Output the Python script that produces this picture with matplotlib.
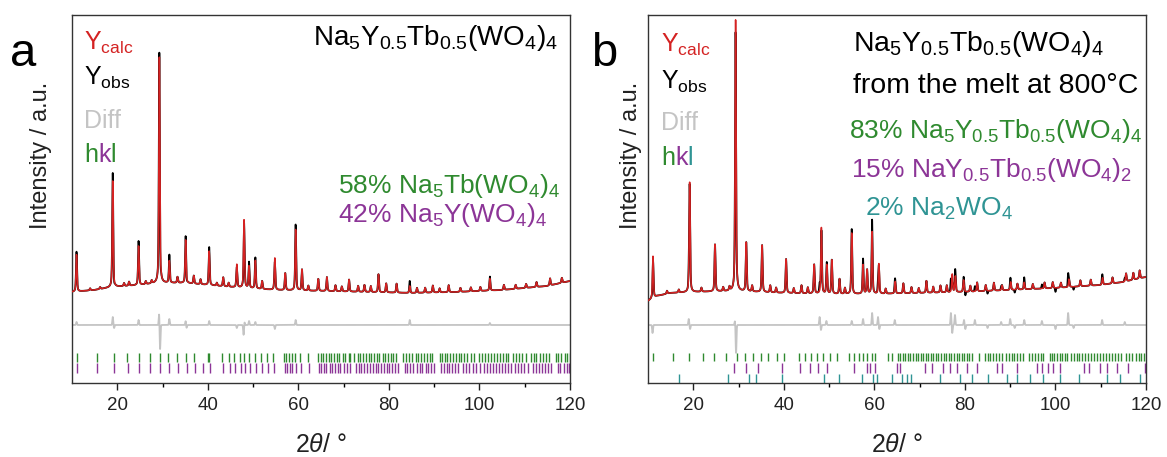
import numpy as np
import matplotlib
matplotlib.use("Agg")
import matplotlib.pyplot as plt

plt.rcParams["font.family"] = ["Liberation Sans", "DejaVu Sans"]
plt.rcParams["mathtext.fontset"] = "custom"
plt.rcParams["mathtext.rm"] = "Liberation Sans"
plt.rcParams["mathtext.it"] = "Liberation Sans:italic"
plt.rcParams["mathtext.bf"] = "Liberation Sans:bold"

RED = "#d42222"
GREEN = "#2f8a2f"
PURPLE = "#8c3597"
TEAL = "#2f9494"
GRAY = "#c4c4c4"

# ---------------- panel a: Na5Y0.5Tb0.5(WO4)4 ----------------
# peak position (2theta) and height above background (px-like units)
peaks_a_pos = [11.0, 19.0, 24.7, 29.3, 31.5, 33.3, 35.1, 36.9, 38.4, 40.3,
               43.4, 46.4, 48.0, 49.1, 50.5, 52.0, 54.8, 57.1, 59.4, 60.8,
               64.4, 66.3, 71.2, 77.7, 79.4, 81.7, 84.6, 89.7, 93.2, 98.1,
               102.3, 112.6, 115.6,
               14.0, 16.2, 21.5, 22.6, 26.3, 27.6, 42.0, 44.6, 62.2, 68.2,
               69.6, 73.2, 74.6, 76.0, 86.2, 88.0, 91.2, 95.8, 100.2, 105.4,
               108.0, 110.3, 118.2]
peaks_a_hgt = [37, 106, 39, 226, 22, 6, 43, 8, 5, 34,
               9, 23, 68, 22, 28, 8, 32, 17, 61, 21,
               12, 14, 12, 18, 9, 9, 7, 7, 7, 4,
               12, 5, 7,
               2, 2, 3, 4, 3, 3, 3, 4, 5, 6,
               5, 6, 7, 6, 5, 5, 4, 4, 4, 5,
               4, 4, 5]
bg_a_x = [10, 15, 19, 25, 29, 35, 45, 55, 65, 75, 85, 95, 105, 115, 120]
bg_a_y = [91, 93, 96, 98, 100, 100, 96, 93, 92, 91, 90, 91, 93, 97, 102]
diff_a_pos = [11.0, 19.0, 19.3, 24.7, 29.25, 29.45, 31.5, 35.1, 35.3, 40.3,
              46.4, 47.9, 48.1, 49.1, 50.5, 54.8, 59.4, 84.6, 102.3]
diff_a_amp = [3, 8, -3, 5, 12, -25, 6, 4, -3, 4,
              -3, -10, 3, 4, 3, -4, 5, 5, 2]
hkl_a_green = [11.2, 15.6, 19.3, 22.2, 24.8, 27.2, 29.4, 31.3, 33.3, 35.2,
               37.0, 40.0, 40.3, 43.2, 44.7, 45.8, 47.1, 48.0, 49.1, 50.4,
               51.7, 53.1, 54.4, 56.8, 57.3, 57.9, 58.5, 59.2, 60.4, 62.1,
               64.3, 64.9, 65.4, 66.0, 66.7, 67.2, 67.8, 68.5, 69.0, 69.8,
               70.4, 71.1, 71.5, 72.3, 73.1, 73.6, 74.2, 74.9, 75.5, 76.1,
               76.8, 77.3, 77.9, 78.6, 79.2, 79.7, 80.4, 81.0, 81.6, 83.2,
               83.8, 84.4, 85.0, 85.9, 86.5, 87.1, 87.8, 88.4, 89.0, 89.5,
               91.2, 91.8, 92.4, 92.9, 93.5, 94.1, 94.8, 95.4, 96.0, 96.6,
               97.2, 98.2, 98.9, 99.8, 100.5, 101.3, 101.9, 102.5, 103.2, 103.9,
               104.5, 105.1, 105.8, 106.4, 107.3, 108.1, 108.7, 109.4, 110.2, 111.4,
               112.0, 112.6, 113.4, 114.0, 114.7, 115.3, 116.8, 117.4, 118.1, 118.8,
               119.4, 119.9]
hkl_a_purple = [11.2, 15.6, 19.3, 22.3, 24.9, 27.3, 29.5, 31.4, 33.4, 35.3,
                37.1, 38.9, 40.4, 43.3, 44.8, 46.0, 47.3, 48.2, 49.3, 50.6,
                51.9, 53.3, 54.6, 57.0, 57.5, 58.1, 58.7, 59.4, 60.6, 62.3,
                64.5, 65.1, 65.6, 66.2, 66.9, 67.4, 68.0, 68.7, 69.3, 70.1,
                70.7, 71.4, 72.7, 73.4, 73.9, 74.5, 75.2, 75.8, 76.4, 77.1,
                77.6, 78.2, 78.9, 79.5, 80.0, 80.7, 81.3, 81.9, 83.5, 84.1,
                84.7, 85.3, 86.2, 86.8, 87.4, 88.1, 88.7, 89.3, 89.9, 91.6,
                92.2, 92.8, 93.3, 93.9, 94.5, 95.2, 96.4, 97.0, 97.6, 98.6,
                99.3, 100.2, 100.9, 101.7, 102.3, 103.0, 103.7, 104.4, 105.0, 105.6,
                106.3, 106.9, 107.8, 108.6, 109.2, 109.9, 110.7, 111.9, 112.5, 113.1,
                113.9, 114.5, 115.2, 115.8, 117.3, 117.9, 118.6, 119.3, 119.8]

# ---------------- panel b: from the melt at 800 C ----------------
peaks_b_pos = [11.1, 19.2, 24.8, 29.35, 31.7, 35.2, 37.0, 40.5, 43.9, 46.7,
               48.3, 49.5, 50.6, 52.3, 55.0, 57.5, 58.4, 59.5, 61.0, 64.6,
               66.4, 71.5, 74.6, 77.2, 77.9, 79.7, 82.7, 86.4, 90.1, 93.1,
               97.6, 103.0, 110.4, 115.6, 118.6,
               14.2, 16.8, 21.8, 26.6, 28.0, 33.0, 38.3, 42.2, 45.3, 53.5,
               62.5, 68.2, 69.8, 73.0, 76.0, 81.2, 84.6, 88.2, 91.6, 95.0,
               99.4, 101.2, 105.5, 107.8, 112.6, 117.2]
peaks_b_hgt = [42, 110, 47, 272, 49, 47, 7, 34, 8, 29,
               66, 29, 34, 15, 61, 29, 24, 62, 30, 12,
               10, 12, 7, 18, 16, 12, 9, 8, 8, 7,
               6, 8, 7, 8, 8,
               3, 3, 4, 4, 4, 6, 5, 5, 6, 6,
               5, 6, 5, 6, 7, 6, 6, 5, 6, 5,
               6, 5, 6, 6, 6, 7]
bg_b_x = [10, 12, 15, 20, 29, 40, 50, 60, 70, 80, 90, 100, 110, 115, 120]
bg_b_y = [82, 87, 90, 91, 92, 90, 89, 89, 90, 91, 93, 95, 98, 101, 106]
diff_b_pos = [11.0, 19.0, 19.3, 29.2, 29.45, 47.9, 48.2, 49.4, 55.0, 57.5,
              59.5, 60.8, 61.1, 64.5, 76.9, 77.2, 77.8, 79.8, 80.1, 82.2,
              85.0, 88.0, 90.0, 91.0, 93.1, 97.0, 100.0, 102.8, 104.0, 110.3,
              115.3]
diff_b_amp = [-8, 6, -4, 4, -28, 8, -5, 4, 4, 6,
              12, 8, -4, 5, 12, -8, 10, 5, -4, 5,
              -3, 3, 6, -3, 5, 4, -4, 12, -3, 5,
              3]
hkl_b_green = [11.0, 15.6, 19.1, 22.1, 24.6, 27.2, 29.6, 31.4, 33.3, 34.9,
               36.6, 38.4, 40.0, 43.4, 44.7, 45.9, 47.3, 48.6, 50.1, 51.7,
               54.5, 55.4, 56.5, 57.4, 58.3, 59.4, 60.1, 63.1, 63.8, 65.2,
               65.7, 66.3, 66.8, 67.4, 67.9, 68.5, 69.1, 69.6, 70.2, 70.8,
               71.3, 71.9, 72.4, 73.0, 73.6, 74.1, 74.8, 75.3, 75.9, 76.5,
               77.0, 77.6, 78.2, 78.7, 79.3, 79.9, 80.4, 81.0, 81.6, 83.1,
               84.4, 85.0, 85.6, 86.2, 86.9, 87.5, 88.1, 89.1, 89.7, 90.3,
               90.9, 91.6, 92.2, 92.8, 94.2, 94.8, 95.5, 96.1, 96.7, 97.3,
               98.7, 99.2, 99.7, 100.3, 100.9, 101.5, 102.0, 102.6, 103.4, 104.1,
               104.7, 105.3, 105.9, 106.6, 107.2, 107.8, 108.5, 109.2, 109.8, 110.5,
               111.2, 111.8, 112.4, 113.1, 113.8, 114.4, 115.6, 116.2, 117.0, 117.7,
               118.4, 119.0, 119.6]
hkl_b_purple = [29.1, 31.6, 34.2, 39.5, 43.6, 45.8, 47.6, 49.5, 55.4, 58.3,
                59.0, 60.1, 64.9, 65.7, 71.2, 72.7, 75.2, 76.7, 78.2, 80.4,
                82.6, 87.0, 88.1, 91.4, 95.9, 97.0, 98.4, 99.5, 100.9, 106.4,
                107.5, 109.8, 111.3, 113.5, 116.1, 119.8]
hkl_b_teal = [16.9, 27.6, 32.4, 33.9, 39.5, 48.9, 52.2, 57.2, 59.8, 60.5,
              63.8, 66.0, 67.1, 68.2, 74.5, 78.9, 81.5, 85.2, 89.2, 91.4,
              94.4, 97.3, 101.0, 105.1, 111.3, 114.3, 118.7]

W, H = 1167, 457
fig = plt.figure(figsize=(W / 100, H / 100), dpi=100)


def fx(x):
    return x / W


def fy(y):
    return 1 - y / H


tth = np.linspace(10, 120, 6001)


def peak_sum(pos, hgt, fwhm):
    out = np.zeros_like(tth)
    for p, h in zip(pos, hgt):
        g = np.exp(-4 * np.log(2) * ((tth - p) / fwhm) ** 2)
        l = 1 / (1 + 4 * ((tth - p) / fwhm) ** 2)
        out += h * (0.5 * g + 0.5 * l)
    return out


def wiggles(pos, amp):
    out = np.zeros_like(tth)
    for p, a in zip(pos, amp):
        out += a * np.exp(-0.5 * ((tth - p) / 0.09) ** 2)
    return out


def panel(left, peaks_pos, peaks_hgt, bg_x, bg_y, diff_pos, diff_amp, hkl_rows):
    ax = fig.add_axes([fx(left), fy(383), fx(498), (383 - 15) / H])
    calc = np.interp(tth, bg_x, bg_y) + peak_sum(peaks_pos, peaks_hgt, 0.26)
    diff = wiggles(diff_pos, diff_amp)
    obs = calc + diff
    ax.plot(tth, obs, color="black", lw=1.3, zorder=2)
    ax.plot(tth, calc, color=RED, lw=1.1, zorder=3)
    ax.plot(tth, 58 + diff, color=GRAY, lw=1.3, zorder=2)
    for positions, color, y0, y1 in hkl_rows:
        ax.vlines(positions, y0, y1, color=color, lw=1.0)
    ax.set_xlim(10, 120)
    ax.set_ylim(0, 368)
    ax.set_yticks([])
    ax.set_xticks([20, 40, 60, 80, 100, 120])
    ax.set_xticks([30, 50, 70, 90, 110], minor=True)
    ax.tick_params(axis="x", which="major", direction="out", length=5, width=1.0,
                   labelsize=13.5, pad=5, colors="#222222")
    ax.tick_params(axis="x", which="minor", direction="out", length=3, width=1.0)
    for s in ax.spines.values():
        s.set_linewidth(1.0)
        s.set_color("#333333")
    return ax


panel(72, peaks_a_pos, peaks_a_hgt, bg_a_x, bg_a_y, diff_a_pos, diff_a_amp,
      [(hkl_a_green, GREEN, 21.5, 30.5), (hkl_a_purple, PURPLE, 10.5, 20.5)])
panel(648, peaks_b_pos, peaks_b_hgt, bg_b_x, bg_b_y, diff_b_pos, diff_b_amp,
      [(hkl_b_green, GREEN, 22.5, 30.5), (hkl_b_purple, PURPLE, 10.5, 20.5),
       (hkl_b_teal, TEAL, 0.5, 9)])

# panel letters, axis labels
fig.text(fx(10), fy(66), "a", fontsize=34, va="baseline")
fig.text(fx(591), fy(66), "b", fontsize=34, va="baseline")
for xc in (41, 631):
    fig.text(fx(xc), fy(155), "Intensity / a.u.", fontsize=17, rotation=90,
             ha="center", va="center", color="#222222")
for xc in (321, 897):
    fig.text(fx(xc), fy(452), r"2$\it{\theta}$/ °", fontsize=18, ha="center",
             va="baseline", color="#222222")

# legend-like labels
for x0, yb, lcol in ((84, (50, 85, 128, 162), GREEN), (661, (52, 89, 130, 165), TEAL)):
    fig.text(fx(x0), fy(yb[0]), r"Y$_{\rm calc}$", fontsize=18, color=RED, va="baseline")
    fig.text(fx(x0), fy(yb[1]), r"Y$_{\rm obs}$", fontsize=18, color="black", va="baseline")
    fig.text(fx(x0), fy(yb[2]), "Diff", fontsize=18, color=GRAY, va="baseline")
    fig.text(fx(x0), fy(yb[3]), "h", fontsize=18, color=GREEN, va="baseline")
    fig.text(fx(x0 + 13.9), fy(yb[3]), "k", fontsize=18, color=PURPLE, va="baseline")
    fig.text(fx(x0 + 26.4), fy(yb[3]), "l", fontsize=18, color=lcol, va="baseline")

formula = r"Na$_5$Y$_{0.5}$Tb$_{0.5}$(WO$_4$)$_4$"
fig.text(fx(558), fy(45), formula, fontsize=20, ha="right", va="baseline")
fig.text(fx(338), fy(193), r"58% Na$_5$Tb(WO$_4$)$_4$", fontsize=19, color=GREEN, va="baseline")
fig.text(fx(338), fy(222), r"42% Na$_5$Y(WO$_4$)$_4$", fontsize=19, color=PURPLE, va="baseline")

fig.text(fx(853), fy(51), formula, fontsize=20.5, va="baseline")
fig.text(fx(853), fy(93), "from the melt at 800°C", fontsize=20.5, va="baseline")
fig.text(fx(849), fy(138), "83% " + formula, fontsize=19, color=GREEN, va="baseline")
fig.text(fx(851), fy(177), r"15% NaY$_{0.5}$Tb$_{0.5}$(WO$_4$)$_2$", fontsize=19,
         color=PURPLE, va="baseline")
fig.text(fx(865), fy(216), r"2% Na$_2$WO$_4$", fontsize=19, color=TEAL, va="baseline")

fig.savefig("out.png", dpi=100)
